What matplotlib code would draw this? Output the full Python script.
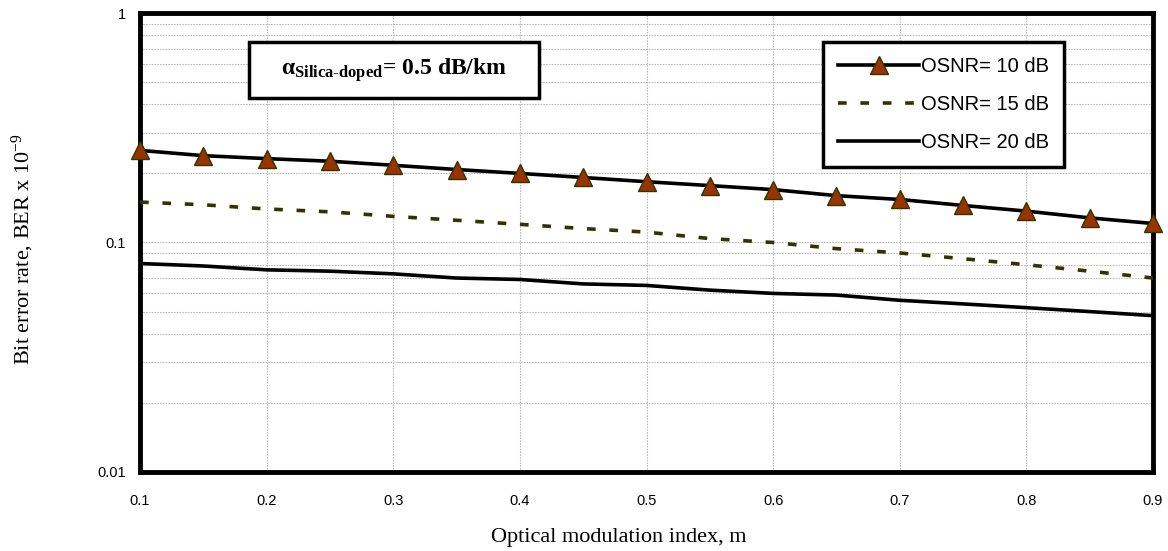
import matplotlib.pyplot as plt
from matplotlib.patches import Rectangle
from matplotlib.ticker import FixedLocator, FixedFormatter, LogLocator, NullFormatter

plt.rcParams['mathtext.fontset'] = 'custom'
plt.rcParams['mathtext.rm'] = 'Liberation Serif'
plt.rcParams['mathtext.it'] = 'Liberation Serif:italic'
plt.rcParams['mathtext.bf'] = 'Liberation Serif:bold'

m = [0.1, 0.15, 0.2, 0.25, 0.3, 0.35, 0.4, 0.45, 0.5,
     0.55, 0.6, 0.65, 0.7, 0.75, 0.8, 0.85, 0.9]
ber_10 = [0.252, 0.239, 0.232, 0.226, 0.217, 0.208, 0.200, 0.192, 0.184,
          0.177, 0.170, 0.160, 0.154, 0.145, 0.137, 0.128, 0.121]
ber_15 = [0.150, 0.146, 0.140, 0.136, 0.130, 0.125, 0.120, 0.115, 0.111,
          0.104, 0.100, 0.094, 0.090, 0.085, 0.080, 0.075, 0.070]
ber_20 = [0.081, 0.079, 0.076, 0.075, 0.073, 0.070, 0.069, 0.066, 0.065,
          0.062, 0.060, 0.059, 0.056, 0.054, 0.052, 0.050, 0.048]

x_ticks = [0.1, 0.2, 0.3, 0.4, 0.5, 0.6, 0.7, 0.8, 0.9]
y_ticks = [0.01, 0.1, 1]
y_tick_labels = ['0.01', '0.1', '1']

fig = plt.figure(figsize=(11.68, 5.51), dpi=100)
ax = fig.add_axes([0.1199, 0.1434, 0.8673, 0.8330])

ax.plot(m, ber_10, color='black', lw=2.6, marker='^', markersize=13,
        markerfacecolor='#993300', markeredgecolor='#333300', markeredgewidth=1,
        label='OSNR= 10 dB', zorder=4, clip_on=False)
ax.plot(m, ber_15, color='#333300', lw=2.6, dashes=(2.4, 3.8),
        label='OSNR= 15 dB', zorder=3)
ax.plot(m, ber_20, color='black', lw=2.6, label='OSNR= 20 dB', zorder=3)

ax.set_yscale('log')
ax.set_xlim(0.1, 0.9)
ax.set_ylim(0.01, 1)

ax.xaxis.set_major_locator(FixedLocator(x_ticks))
ax.yaxis.set_major_locator(FixedLocator(y_ticks))
ax.yaxis.set_major_formatter(FixedFormatter(y_tick_labels))
ax.yaxis.set_minor_locator(LogLocator(base=10, subs=range(2, 10)))
ax.yaxis.set_minor_formatter(NullFormatter())
ax.tick_params(which='both', length=0, labelsize=10.5)
ax.tick_params(axis='x', pad=16)
ax.tick_params(axis='y', pad=10)
for lab in ax.get_xticklabels() + ax.get_yticklabels():
    lab.set_family('Liberation Sans')

ax.grid(True, which='major', axis='x', color='#bdbdbd', lw=0.8, ls=(0, (1.5, 1)))
ax.grid(True, which='both', axis='y', color='#bdbdbd', lw=0.8, ls=(0, (1.5, 1)))

for s in ax.spines.values():
    s.set_linewidth(3.5)

# axis titles placed like the original
fig.text(0.5295, 0.0254, 'Optical modulation index, m', family='Liberation Serif',
         fontsize=16, ha='center', va='center')
fig.text(0.0197, 0.548, 'Bit error rate, BER x 10$^{\\mathrm{-9}}$',
         family='Liberation Serif', fontsize=16, ha='center', va='center',
         rotation=90)

# annotation box
ax.add_patch(Rectangle((0.1076, 0.8148), 0.2863, 0.122, transform=ax.transAxes,
                       fc='white', ec='black', lw=2.5, zorder=5))
ax.text(0.2507, 0.876, r'$\mathbf{\alpha}_{\mathbf{Silica\text{-}doped}}$' + '= 0.5 dB/km',
        transform=ax.transAxes, ha='center', va='center', fontsize=17,
        fontweight='bold', family='Liberation Serif', zorder=6)

leg = ax.legend(loc='upper right', bbox_to_anchor=(0.912, 0.937),
                prop={'family': 'Liberation Sans', 'size': 14.5},
                frameon=True, fancybox=False, edgecolor='black', framealpha=1,
                handlelength=4.0, labelspacing=0.95, borderpad=0.75,
                handletextpad=0.1, borderaxespad=0)
leg.get_frame().set_linewidth(2.5)

fig.savefig('out.png', dpi=100)
